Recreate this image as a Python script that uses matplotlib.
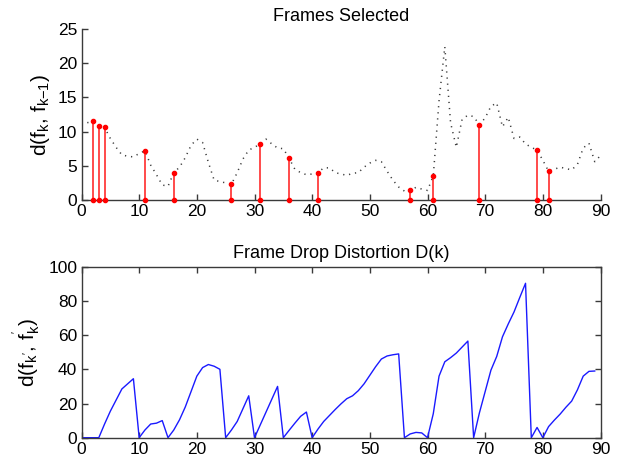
import numpy as np
import matplotlib
matplotlib.use("Agg")
import matplotlib.pyplot as plt

plt.rcParams['font.family'] = ['Liberation Sans', 'DejaVu Sans']
plt.rcParams['mathtext.fontset'] = 'custom'
plt.rcParams['mathtext.rm'] = 'Liberation Sans'
plt.rcParams['mathtext.it'] = 'Liberation Sans'

# inter-frame difference d(f_k, f_{k-1}) for k = 1..90
frames = list(range(1, 91))
frame_diff = [
    11.3, 11.5, 10.8, 10.6, 9.0, 7.7, 6.6, 6.4, 6.3, 6.8,
    7.2, 5.1, 3.7, 2.2, 2.0, 4.0, 4.8, 6.2, 8.0, 8.9,
    8.4, 5.5, 2.9, 2.7, 2.5, 2.3, 4.0, 6.0, 7.3, 7.7,
    8.2, 8.9, 8.2, 7.6, 7.5, 6.1, 4.5, 4.0, 3.7, 3.8,
    4.0, 4.7, 4.7, 4.0, 3.8, 3.6, 3.9, 4.0, 4.8, 5.4,
    5.8, 5.6, 4.2, 2.9, 1.9, 1.3, 1.4, 1.85, 1.6, 1.4,
    3.5, 14.5, 22.4, 11.3, 7.7, 11.8, 12.4, 12.2, 11.0, 12.0,
    13.7, 14.2, 10.7, 12.1, 9.0, 9.2, 8.2, 7.7, 7.3, 5.8,
    4.2, 4.5, 4.8, 4.6, 4.4, 5.2, 7.6, 8.3, 5.6, 6.5,
]

# frames kept by the selection
selected = [2, 3, 4, 11, 16, 26, 31, 36, 41, 57, 61, 69, 79, 81]

# frame drop distortion D(k) for k = 0..89
drop_k = list(range(0, 90))
drop_dist = [
    0, 0, 0, 0, 8, 15.5, 22, 28.5, 31.5, 34.5,
    0, 4.5, 8, 8.5, 10, 0, 4.5, 10.5, 18, 27,
    36, 41, 42.8, 41.8, 40, 0, 4.5, 9.5, 17, 24.5,
    0, 7.5, 15, 22.5, 30, 0, 4.3, 8.5, 12.5, 15,
    0, 5, 9.5, 13, 16.5, 19.8, 22.8, 24.5, 27.5, 31.5,
    36.5, 41.5, 46, 47.8, 48.5, 49, 0, 2.2, 3.1, 2.8,
    0, 14, 36, 44.4, 46.8, 49.5, 53, 56.5, 0, 14.5,
    27, 39.5, 47.5, 59, 66.5, 73.5, 82, 90.3, 0, 6,
    0, 6.5, 10.3, 13.8, 17.8, 21.4, 28, 36, 38.8, 39,
]

xticks = list(range(0, 91, 10))
top_yticks = [0, 5, 10, 15, 20, 25]
bot_yticks = [0, 20, 40, 60, 80, 100]

W, H = 634, 463
fig = plt.figure(figsize=(W / 100, H / 100), dpi=100)
left, width = 81.5 / W, 519 / W
ax1 = fig.add_axes([left, 1 - 200 / H, width, 171 / H])
ax2 = fig.add_axes([left, 1 - 437.7 / H, width, 171 / H])

spine_col = '#3a3a3a'
tick_fs = 12.5

# --- top panel ---
ax1.plot(frames, frame_diff, color='#3c3c3c', lw=1.1, linestyle=(0, (0.8, 3.2)))
sel_vals = [frame_diff[f - 1] for f in selected]
ax1.vlines(selected, 0, sel_vals, color='#ff1a1a', lw=1.1, zorder=3)
ax1.plot(selected, sel_vals, 'o', color='#ff0000', ms=3.0, zorder=4, clip_on=False)
ax1.plot(selected, [0] * len(selected), 'o', color='#ff0000', ms=3.0, zorder=4, clip_on=False)
ax1.set_xlim(0, 90)
ax1.set_ylim(0, 25)
ax1.set_xticks(xticks)
ax1.set_yticks(top_yticks)
for s in ['top', 'right']:
    ax1.spines[s].set_visible(False)
for s in ['left', 'bottom']:
    ax1.spines[s].set_color(spine_col)
    ax1.spines[s].set_linewidth(1.0)
ax1.tick_params(direction='in', length=4, width=1, colors=spine_col,
                labelcolor='black', labelsize=tick_fs, pad=3)
ax1.set_title('Frames Selected', fontsize=13, pad=6)
ax1.set_ylabel(r'd(f$_{k}$, f$_{k\mathrm{-1}}$)', fontsize=15, labelpad=4)

# --- bottom panel ---
ax2.plot(drop_k, drop_dist, color='#1a1aff', lw=1.0)
ax2.set_xlim(0, 90)
ax2.set_ylim(0, 100)
ax2.set_xticks(xticks)
ax2.set_yticks(bot_yticks)
for s in ax2.spines.values():
    s.set_color(spine_col)
    s.set_linewidth(1.0)
ax2.tick_params(direction='in', length=4, width=1, colors=spine_col,
                labelcolor='black', labelsize=tick_fs, pad=3,
                top=True, right=True)
ax2.set_title('Frame Drop Distortion D(k)', fontsize=13, pad=6)
ax2.set_ylabel(r"d(f$_{k'}$, f$_{k}^{'}$)", fontsize=15, labelpad=4)

fig.savefig('out.png', dpi=100)
